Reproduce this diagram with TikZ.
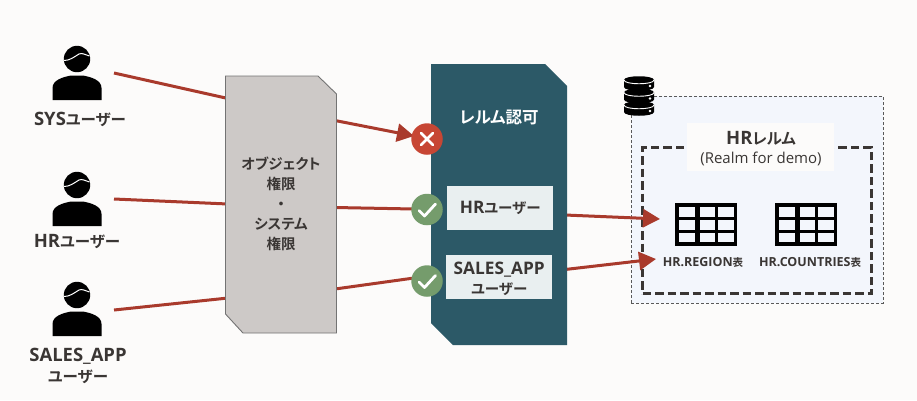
\documentclass[tikz,border=0pt]{standalone}
\usepackage{fontspec}
\setmainfont{Noto Sans}
\newfontfamily\jpb[RawFeature=+palt]{Noto Sans CJK JP Bold}
\newfontfamily\ns{Open Sans}
\newfontfamily\nsl[Scale=1.19]{Open Sans}
\newcommand{\lb}[1]{{\nsl\bfseries #1}}
\usetikzlibrary{arrows.meta}
\definecolor{bgc}{HTML}{FCFBFA}
\definecolor{redl}{HTML}{A93A2C}
\definecolor{teal}{HTML}{2C5967}
\definecolor{greyb}{HTML}{CDC9C7}
\definecolor{txt}{HTML}{3A3634}
\definecolor{okc}{HTML}{759C6C}
\definecolor{ngc}{HTML}{C74634}
\definecolor{userb}{HTML}{E9EFF0}
\definecolor{realmb}{HTML}{F3F6FC}
\tikzset{
  x=1pt,y=-1pt,
  conn/.style={draw=redl,line width=3pt},
  connarrow/.style={conn,-{Triangle[length=17pt,width=18pt]}},
  lbl/.style={font=\jpb\fontsize{15.5}{21}\selectfont,text=txt,align=center,inner sep=0pt},
  boxlbl/.style={font=\jpb\fontsize{14.5}{20}\selectfont,text=txt,align=center,inner sep=0pt},
  badge/.style={circle,minimum size=31.5pt,inner sep=0pt,draw=none},
  userbox/.style={fill=userb,draw=none,minimum width=106pt,minimum height=44pt,inner sep=0pt},
  person/.pic={
    \fill[black] (-24.5,20) -- (-24.5,8) .. controls (-24.5,0) and (-14,-3) .. (-6,-4.5) -- (6,-4.5) .. controls (14,-3) and (24.5,0) .. (24.5,8) -- (24.5,20) -- cycle;
    \fill[black] (0,-21) circle[radius=13.2];
    \draw[white,line width=1pt] (-13,-19.5) .. controls (-7,-19.5) and (-3,-23) .. (2,-26) .. controls (5,-27.5) and (9,-25) .. (12.5,-24);
  },
  gridtable/.pic={
    \fill[black] (0,0) rectangle (62,43);
    \foreach \cx in {4,24.5,43}{
      \foreach \cy in {4,17,29.5}{
        \fill[realmb] (\cx,\cy) rectangle ++(15.5,9.5);
      }
    }
  },
  dbdisk/.pic={
    \fill[black] (-15,-4) .. controls (-15,-9) and (15,-9) .. (15,-4) -- (15,3) .. controls (15,8) and (-15,8) .. (-15,3) -- cycle;
    \draw[white,line width=0.9pt] (-15,-4) .. controls (-15,1) and (15,1) .. (15,-4);
    \fill[white] (11,2) circle[radius=1.4];
  },
}
\begin{document}
\begin{tikzpicture}
\useasboundingbox (0,0) rectangle (917,400);
\fill[bgc] (0,0) rectangle (917,400);

% connector end points
\coordinate (sysa) at (114,73);   \coordinate (sysb) at (228,98.5);
\coordinate (hra) at (114,199);   \coordinate (hrb) at (228,204);
\coordinate (saa) at (114,310);   \coordinate (sab) at (228,298);
\coordinate (sysc) at (335,120.5);
\coordinate (hrc) at (335,207.5);
\coordinate (sac) at (335,289);
\coordinate (ruleh) at (565,215);
\coordinate (rules) at (565,269.5);
\coordinate (tabh) at (660,219);
\coordinate (tabs) at (656,259);
\coordinate (ngin) at (414,136);
\coordinate (ok1in) at (414,209);
\coordinate (ok2in) at (414,278);

% people
\pic at (77,80) {person};
\pic at (77,206) {person};
\pic at (77,316) {person};
\node[lbl,anchor=center] (u1) at (80,119) {\lb{SYS}ユーザー};
\node[lbl,anchor=center] (u2) at (77,242) {\lb{HR}ユーザー};
\node[lbl,anchor=center] (u3) at (78,366) {\lb{SALES\_APP}\\ユーザー};

% realm area
\node[draw=black!65,dash pattern=on 3pt off 2pt,line width=1pt,fill=realmb,minimum width=252pt,minimum height=207pt,inner sep=0pt,outer sep=0pt,anchor=north west] (outer) at (631,96) {};
\node[draw=txt,dash pattern=on 8.5pt off 4pt,line width=3pt,minimum width=229pt,minimum height=146pt,inner sep=0pt,outer sep=0pt,anchor=north west] (inner) at (642.5,147.5) {};
\fill[bgc] (687,123) rectangle (834,171);
\node[font=\jpb\fontsize{15.5}{20}\selectfont,text=txt,inner sep=0pt] (rname) at (761,138) {\lb{HR}レルム};
\node[font=\ns\fontsize{15}{18}\selectfont,text=txt,inner sep=0pt] (rsub) at (761,159) {(Realm for demo)};
\pic at (675,203) {gridtable};
\pic at (775,203) {gridtable};
\node[font=\jpb\fontsize{10.5}{13}\selectfont,text=txt,inner sep=0pt] (t1) at (703,262) {\lb{HR.REGION}表};
\node[font=\jpb\fontsize{10.5}{13}\selectfont,text=txt,inner sep=0pt] (t2) at (810,262) {\lb{HR.COUNTRIES}表};

% database icon
\pic at (639,84) {dbdisk};
\pic at (639,96.5) {dbdisk};
\pic at (639,109) {dbdisk};

% connectors
\draw[conn] (sysa) -- (sysb);
\draw[conn] (hra) -- (hrb);
\draw[conn] (saa) -- (sab);
\draw[connarrow] (sysc) -- (ngin);
\draw[conn] (hrc) -- (ok1in);
\draw[conn] (sac) -- (ok2in);
\draw[connarrow] (ruleh) -- (tabh);
\draw[connarrow] (rules) -- (tabs);

% privilege box
\draw[fill=greyb,draw=black!55,line width=0.9pt] (225.5,76) -- (318,76) -- (336.5,94) -- (336.5,333) -- (243,333) -- (225.5,314) -- cycle;
\node[boxlbl,anchor=center] (priv) at (281,204) {オブジェクト\\権限\\・\\システム\\権限};

% realm authorization box
\fill[teal] (431,64) -- (545,64) -- (567,86) -- (567,345) -- (453,345) -- (431,323) -- cycle;
\node[font=\jpb\fontsize{16.5}{19}\selectfont,text=white,inner sep=0pt] (authz) at (499,117) {レルム認可};
\node[userbox,anchor=north west] (hru) at (447,186) {};
\node[boxlbl] (hrt) at (hru.center) {\lb{HR}ユーザー};
\node[userbox,anchor=north west] (sau) at (446,255) {};
\node[boxlbl] (sat) at ([yshift=-1.5pt]sau.center) {\lb{SALES\_APP}\\ユーザー};

% badges
\node[badge,fill=ngc] (ng) at (427,139) {};
\draw[white,line width=2.8pt,line cap=round] (ng.center) ++(-6,-6) -- ++(12,12) ++(0,-12) -- ++(-12,12);
\node[badge,fill=okc] (ok1) at (427,209.5) {};
\draw[white,line width=2.8pt,line cap=round,line join=round] (ok1.center) ++(-8,1) -- ++(5.5,5.5) -- ++(11,-12);
\node[badge,fill=okc] (ok2) at (427,281) {};
\draw[white,line width=2.8pt,line cap=round,line join=round] (ok2.center) ++(-8,1) -- ++(5.5,5.5) -- ++(11,-12);
\end{tikzpicture}
\end{document}
